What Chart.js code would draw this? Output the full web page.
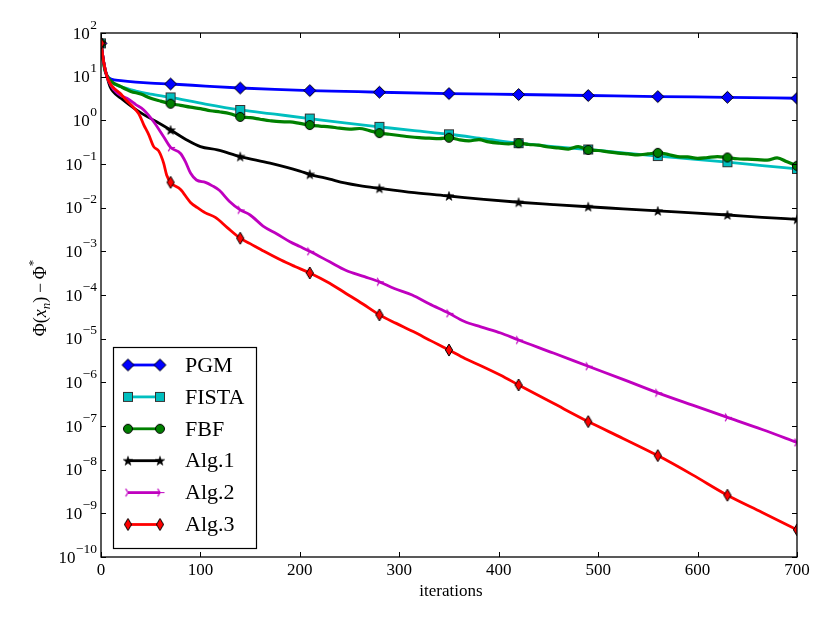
<!DOCTYPE html>
<html>
<head>
<meta charset="utf-8">
<script src="https://cdn.jsdelivr.net/npm/chart.js@4.4.1/dist/chart.umd.min.js"></script>
<style>
  html, body { margin: 0; padding: 0; background: #fff; }
  #wrap { width: 830px; height: 623px; }
</style>
</head>
<body>
<div id="wrap"><canvas id="convChart" width="830" height="623"></canvas></div>
<script>
// axis ticks
const xTicks = [0, 100, 200, 300, 400, 500, 600, 700];
const yExponents = [2, 1, 0, -1, -2, -3, -4, -5, -6, -7, -8, -9, -10];
const markerIters = [0, 70, 140, 210, 280, 350, 420, 490, 560, 630, 700];
const seriesNames = ['PGM', 'FISTA', 'FBF', 'Alg.1', 'Alg.2', 'Alg.3'];

// PGM
const pgmIters = [0, 2, 4, 6, 10, 20, 35, 50, 70, 105, 140, 175, 210, 245, 280, 350, 420, 490, 560, 630, 700];
const pgmVals = [58, 28, 14, 10.5, 8.8, 8.1, 7.5, 7.1, 6.8, 6.1, 5.5, 5.1, 4.8, 4.6, 4.4, 4.1, 3.9, 3.7, 3.5, 3.37, 3.2];

// FISTA
const fistaIters = [0, 2, 4, 6, 10, 20, 35, 50, 70, 105, 140, 175, 210, 245, 280, 315, 350, 385, 420, 455, 490, 525, 560, 595, 630, 665, 700];
const fistaVals = [58, 25, 14, 10.5, 7.6, 5.9, 4.7, 4.0, 3.35, 2.35, 1.73, 1.38, 1.1, 0.87, 0.71, 0.58, 0.48, 0.38, 0.30, 0.25, 0.215, 0.18, 0.152, 0.13, 0.11, 0.092, 0.077];

// FBF
const fbfIters = [0, 2, 4, 6, 10, 20, 30, 40, 50, 60, 70, 80, 90, 100, 110, 120, 130, 140, 150, 160, 170, 180, 190, 200,
  210, 220, 230, 240, 250, 260, 270, 280, 290, 300, 310, 320, 330, 340, 350, 360, 370, 380, 390, 400,
  410, 420, 430, 440, 450, 460, 470, 480, 490, 500, 510, 520, 530, 540, 550, 560, 570, 580, 590, 600,
  610, 620, 630, 640, 650, 660, 670, 680, 690, 700];
const fbfVals = [58, 25, 14, 10.7, 7.9, 5.9, 4.6, 4.0, 3.2, 2.75, 2.4, 2.2, 2.0, 1.86, 1.66, 1.55, 1.41, 1.2, 1.15, 1.06, 0.98, 0.93, 0.92, 0.85,
  0.78, 0.74, 0.71, 0.66, 0.63, 0.65, 0.58, 0.51, 0.48, 0.45, 0.42, 0.40, 0.39, 0.38, 0.40, 0.36, 0.34, 0.36, 0.32, 0.30,
  0.29, 0.30, 0.28, 0.27, 0.245, 0.234, 0.22, 0.25, 0.21, 0.204, 0.19, 0.178, 0.17, 0.162, 0.17, 0.18, 0.166, 0.148, 0.145, 0.135,
  0.141, 0.148, 0.141, 0.132, 0.129, 0.126, 0.123, 0.138, 0.112, 0.091];

// Alg.1
const alg1Iters = [0, 3, 6, 9, 12, 20, 33, 43, 55, 70, 85, 100, 117, 140, 170, 200, 210, 230, 245, 260, 280, 315, 350, 385, 420, 455, 490, 525, 560, 595, 630, 665, 700];
const alg1Vals = [58, 20, 10, 6.0, 4.6, 3.2, 1.9, 1.35, 0.95, 0.6, 0.37, 0.25, 0.21, 0.148, 0.105, 0.069, 0.058, 0.045, 0.037, 0.032, 0.0277, 0.022, 0.0185, 0.0155, 0.0133, 0.0118, 0.0105, 0.0094, 0.0084, 0.0076, 0.0068, 0.006, 0.0054];

// Alg.2
const alg2Iters = [0, 3, 6, 10, 15, 20, 26, 35, 43, 53, 63, 70, 80, 85, 90, 96, 105, 112, 119, 129, 140, 150, 163, 177, 190, 200, 210, 230, 246, 265, 280, 295, 313, 330, 350, 365, 382, 402, 420, 455, 490, 525, 560, 595, 630, 665, 700];
const alg2Vals = [58, 20, 10, 6.3, 4.5, 3.7, 3.2, 2.3, 1.73, 0.93, 0.42, 0.24, 0.174, 0.112, 0.062, 0.043, 0.038, 0.0316, 0.025, 0.0141, 0.0089, 0.0068, 0.0038, 0.0025, 0.00166, 0.00129, 0.001, 5.75e-4, 3.7e-4, 2.63e-4, 2.0e-4, 1.41e-4, 1.0e-4, 6.3e-5, 3.8e-5, 2.5e-5, 1.86e-5, 1.35e-5, 9.3e-6, 4.7e-6, 2.34e-6, 1.17e-6, 5.75e-7, 3.0e-7, 1.58e-7, 8.3e-8, 4.2e-8];

// Alg.3
const alg3Iters = [0, 3, 6, 9, 14, 19, 25, 32, 38, 43, 48, 53, 58, 63, 66, 70, 80, 90, 97, 105, 115, 127, 140, 150, 164, 181, 195, 210, 230, 246, 263, 280, 297, 314, 332, 350, 366, 382, 402, 420, 455, 490, 525, 560, 595, 630, 665, 700];
const alg3Vals = [58, 20, 10, 7.1, 5.2, 4.2, 2.95, 2.04, 1.41, 0.79, 0.47, 0.25, 0.2, 0.105, 0.056, 0.038, 0.026, 0.0132, 0.01, 0.0076, 0.006, 0.0035, 0.002, 0.0015, 0.001, 6.3e-4, 4.5e-4, 3.2e-4, 1.86e-4, 1.1e-4, 6.3e-5, 3.5e-5, 2.24e-5, 1.45e-5, 8.9e-6, 5.5e-6, 3.5e-6, 2.4e-6, 1.45e-6, 8.7e-7, 3.3e-7, 1.26e-7, 5.2e-8, 2.1e-8, 7.6e-9, 2.6e-9, 1.05e-9, 4.2e-10];

const serif = '"Liberation Serif", "DejaVu Serif", serif';

// little marker images, drawn like the matplotlib ones
function makeMarker(kind, fill) {
  const c = document.createElement('canvas');
  const g = c.getContext('2d');
  if (kind === 'diamond') {
    c.width = 15; c.height = 15;
    g.beginPath();
    g.moveTo(7.5, 1.5); g.lineTo(13.5, 7.5); g.lineTo(7.5, 13.5); g.lineTo(1.5, 7.5); g.closePath();
    g.fillStyle = fill; g.fill(); g.strokeStyle = '#000'; g.lineWidth = 1; g.stroke();
  } else if (kind === 'square') {
    c.width = 12; c.height = 12;
    g.fillStyle = fill; g.fillRect(1.5, 1.5, 9, 9);
    g.strokeStyle = '#333'; g.lineWidth = 1; g.strokeRect(1.5, 1.5, 9, 9);
  } else if (kind === 'circle') {
    c.width = 12; c.height = 12;
    g.beginPath(); g.arc(6, 6, 4.5, 0, Math.PI * 2);
    g.fillStyle = fill; g.fill(); g.strokeStyle = '#000'; g.lineWidth = 1; g.stroke();
  } else if (kind === 'star') {
    c.width = 12; c.height = 12;
    g.beginPath();
    for (let i = 0; i < 10; i++) {
      const r = i % 2 === 0 ? 5 : 2;
      const a = -Math.PI / 2 + i * Math.PI / 5;
      const px = 6 + r * Math.cos(a), py = 6.4 + r * Math.sin(a);
      if (i === 0) g.moveTo(px, py); else g.lineTo(px, py);
    }
    g.closePath();
    g.fillStyle = fill; g.fill(); g.strokeStyle = '#000'; g.lineWidth = 0.5; g.stroke();
  } else if (kind === 'triRight') {
    c.width = 11; c.height = 11;
    g.beginPath();
    g.moveTo(5.5, 5.5); g.lineTo(10, 5.5);
    g.moveTo(5.5, 5.5); g.lineTo(3.2, 1.6);
    g.moveTo(5.5, 5.5); g.lineTo(3.2, 9.4);
    g.strokeStyle = fill; g.lineWidth = 1.2; g.stroke();
  } else if (kind === 'thinDiamond') {
    c.width = 10; c.height = 14;
    g.beginPath();
    g.moveTo(5, 1); g.lineTo(8.6, 7); g.lineTo(5, 13); g.lineTo(1.4, 7); g.closePath();
    g.fillStyle = fill; g.fill(); g.strokeStyle = '#000'; g.lineWidth = 1; g.stroke();
  }
  return c;
}

const colors = ['#0000ff', '#00bfbf', '#008000', '#000000', '#bf00bf', '#ff0000'];
const markers = [
  makeMarker('diamond', colors[0]),
  makeMarker('square', colors[1]),
  makeMarker('circle', colors[2]),
  makeMarker('star', colors[3]),
  makeMarker('triRight', colors[4]),
  makeMarker('thinDiamond', colors[5])
];

const seriesIters = [pgmIters, fistaIters, fbfIters, alg1Iters, alg2Iters, alg3Iters];
const seriesVals = [pgmVals, fistaVals, fbfVals, alg1Vals, alg2Vals, alg3Vals];

const datasets = seriesNames.map((name, i) => ({
  label: name,
  data: seriesIters[i].map((it, k) => ({ x: it, y: seriesVals[i][k] })),
  borderColor: colors[i],
  borderWidth: i === 2 ? 3.2 : 2.8,
  fill: false,
  cubicInterpolationMode: 'monotone',
  pointStyle: markers[i],
  pointRadius: ctx => (ctx.raw && markerIters.includes(ctx.raw.x)) ? 5 : 0,
  pointHoverRadius: 0,
  order: seriesNames.length - i
}));

const paperAxes = {
  id: 'paperAxes',
  afterDatasetsDraw(chart) {
    const { ctx, chartArea: a, scales: { x, y } } = chart;
    ctx.save();
    ctx.strokeStyle = '#000';
    ctx.lineWidth = 1.3;
    ctx.strokeRect(a.left, a.top, a.right - a.left, a.bottom - a.top);

    // inward ticks on all four sides
    ctx.lineWidth = 1;
    ctx.beginPath();
    xTicks.forEach(v => {
      const px = Math.round(x.getPixelForValue(v)) + 0.5;
      ctx.moveTo(px, a.bottom); ctx.lineTo(px, a.bottom - 5);
      ctx.moveTo(px, a.top); ctx.lineTo(px, a.top + 5);
    });
    yExponents.forEach(e => {
      const py = Math.round(y.getPixelForValue(Math.pow(10, e))) + 0.5;
      ctx.moveTo(a.left, py); ctx.lineTo(a.left + 5, py);
      ctx.moveTo(a.right, py); ctx.lineTo(a.right - 5, py);
    });
    ctx.stroke();

    // 10^n labels
    ctx.fillStyle = '#000';
    ctx.textAlign = 'right';
    ctx.textBaseline = 'alphabetic';
    yExponents.forEach(e => {
      const py = y.getPixelForValue(Math.pow(10, e));
      const sup = e < 0 ? '\u2212' + (-e) : String(e);
      ctx.font = '13.5px ' + serif;
      const supW = ctx.measureText(sup).width;
      ctx.fillText(sup, a.left - 4, py - 4.5);
      ctx.font = '17px ' + serif;
      ctx.fillText('10', a.left - 4 - supW - 0.5, py + 5.5);
    });

    // x title
    ctx.textAlign = 'center';
    ctx.textBaseline = 'middle';
    ctx.font = '17px ' + serif;
    ctx.fillText('iterations', (a.left + a.right) / 2 + 2, 592);

    // y title: Phi(x_n) - Phi^*
    ctx.save();
    ctx.translate(40, 298);
    ctx.rotate(-Math.PI / 2);
    ctx.textAlign = 'left';
    ctx.textBaseline = 'alphabetic';
    const parts = [
      { t: '\u03A6(', f: '18px ' + serif, dy: 0 },
      { t: 'x', f: 'italic 18px ' + serif, dy: 0 },
      { t: 'n', f: 'italic 13px ' + serif, dy: 4 },
      { t: ')\u2009\u2212\u2009\u03A6', f: '18px ' + serif, dy: 0 },
      { t: '*', f: '13px ' + serif, dy: -9 }
    ];
    let total = 0;
    parts.forEach(p => { ctx.font = p.f; p.w = ctx.measureText(p.t).width; total += p.w; });
    let cx = -total / 2;
    parts.forEach(p => { ctx.font = p.f; ctx.fillText(p.t, cx, 6 + p.dy); cx += p.w; });
    ctx.restore();

    // legend box, lower left
    const lx = 113, ly = 347, lw = 143, lh = 201;
    ctx.fillStyle = '#fff';
    ctx.fillRect(lx, ly, lw, lh);
    ctx.strokeStyle = '#000';
    ctx.lineWidth = 1.2;
    ctx.strokeRect(lx + 0.5, ly + 0.5, lw, lh);
    seriesNames.forEach((name, i) => {
      const ry = 365 + i * 31.9;
      ctx.strokeStyle = colors[i];
      ctx.lineWidth = 2.8;
      ctx.beginPath(); ctx.moveTo(128, ry); ctx.lineTo(160, ry); ctx.stroke();
      const m = markers[i];
      ctx.drawImage(m, 128 - m.width / 2, ry - m.height / 2);
      ctx.drawImage(m, 160 - m.width / 2, ry - m.height / 2);
      ctx.fillStyle = '#000';
      ctx.font = '22px ' + serif;
      ctx.textAlign = 'left';
      ctx.textBaseline = 'middle';
      ctx.fillText(name, 185, ry + 1);
    });
    ctx.restore();
  }
};

new Chart(document.getElementById('convChart'), {
  type: 'line',
  data: { datasets: datasets },
  options: {
    responsive: false,
    animation: false,
    events: [],
    layout: { padding: { left: 0, top: 33, right: 33, bottom: 0 } },
    plugins: { legend: { display: false }, tooltip: { enabled: false } },
    scales: {
      x: {
        type: 'linear',
        min: 0,
        max: 700,
        grid: { display: false, drawTicks: false },
        border: { display: false },
        ticks: {
          stepSize: 100,
          maxRotation: 0,
          padding: 3,
          color: '#000',
          font: { family: serif, size: 17 }
        },
        afterFit: s => { s.height = 66; }
      },
      y: {
        type: 'logarithmic',
        min: 1e-10,
        max: 1e2,
        grid: { display: false, drawTicks: false },
        border: { display: false },
        ticks: { display: false },
        afterFit: s => { s.width = 101; }
      }
    }
  },
  plugins: [paperAxes]
});
</script>
</body>
</html>
